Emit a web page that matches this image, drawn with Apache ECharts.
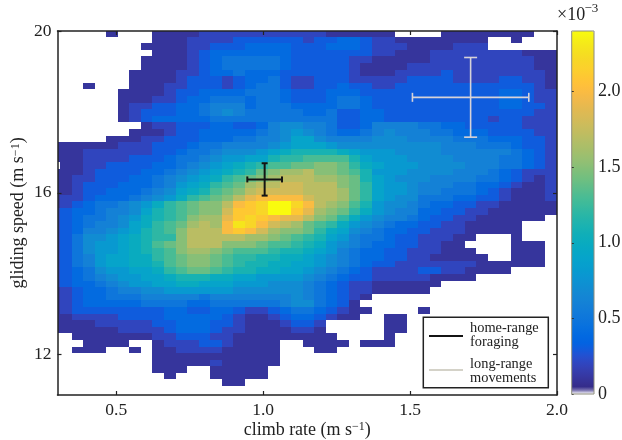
<!DOCTYPE html>
<html><head><meta charset="utf-8">
<style>html,body{margin:0;padding:0;background:#fff}#c{width:622px;height:440px}</style>
<script src="https://cdn.jsdelivr.net/npm/echarts@6/dist/echarts.min.js"></script>
</head><body><div id="c"></div>
<script>
// density in units of 1e-4, rows from top (fast) to bottom, columns left to right; 0 = no data
var densityRows = [
[0,0,0,0,0,1,0,0,0, 1,1,1,1,2,2,2,2,2,2, 2,2,2,2,2,1,1,1,1,1, 1,0,0,0,0,1,1,1,1, 1,1,1,1,0,0],
[0,0,0,0,0,0,0,0,0, 1,1,1,2,2,2,2,3,3,3, 3,3,3,2,3,3,4,4,3,2, 2,1,1,1,1,1,1,1,1, 0,0,1,0,0,0],
[0,0,0,0,0,0,0,0,1, 1,1,1,2,2,3,3,3,4,4, 4,4,3,3,3,4,4,4,3,2, 2,2,1,1,1,1,2,2,2, 0,0,0,0,0,0],
[0,0,0,0,0,0,0,0,0, 1,1,1,2,3,4,4,4,4,4, 4,4,3,3,3,3,3,3,3,2, 2,1,1,1,2,2,2,2,2, 2,2,2,1,1,1],
[0,0,0,0,0,0,0,0,1, 1,1,1,2,3,4,5,5,5,5, 5,4,3,3,3,3,3,2,2,1, 1,1,1,1,2,2,2,2,2, 2,2,2,2,1,1],
[0,0,0,0,0,0,0,0,1, 1,1,1,2,3,4,5,5,5,5, 5,4,3,3,3,3,3,2,1,1, 1,1,2,2,2,2,2,2,2, 2,2,2,2,1,1],
[0,0,0,0,0,0,0,1,1, 1,1,2,2,3,4,4,5,4,4, 4,3,3,3,3,3,3,2,1,1, 1,2,2,2,2,3,2,2,2, 2,2,2,2,2,1],
[0,0,0,0,0,0,0,1,1, 1,1,2,3,3,3,2,3,4,4, 5,3,2,2,3,3,3,2,2,2, 2,2,3,3,3,3,2,2,2, 2,3,3,2,2,1],
[0,0,0,1,0,0,0,1,1, 1,2,2,3,3,3,2,3,4,5, 5,3,2,2,3,3,4,3,3,2, 2,3,3,3,3,3,3,3,3, 3,3,3,3,2,1],
[0,0,0,0,0,0,1,1,1, 1,2,3,3,4,4,4,4,5,5, 5,4,3,3,3,4,4,4,3,3, 3,3,3,3,3,3,3,3,3, 3,4,4,3,2,2],
[0,0,0,0,0,0,1,1,1, 2,2,3,4,4,5,5,5,4,5, 5,4,3,3,3,4,5,5,4,3, 3,3,3,3,3,3,3,3,3, 3,4,4,3,2,2],
[0,0,0,0,0,0,1,2,2, 3,3,4,4,5,6,6,6,4,5, 5,5,4,4,4,4,5,5,4,3, 3,3,3,3,3,3,3,3,3, 3,4,4,3,3,2],
[0,0,0,0,0,0,1,2,3, 3,3,4,4,5,6,7,6,5,5, 5,5,5,4,4,5,3,3,4,4, 3,3,3,3,3,3,3,3,3, 3,3,3,3,2,2],
[0,0,0,0,0,0,1,2,3, 4,4,4,4,4,5,5,5,5,5, 5,5,5,5,5,5,3,3,4,4, 3,3,3,3,3,3,3,3,3, 2,3,3,2,2,2],
[0,0,0,0,0,0,0,0,1, 2,2,3,3,3,4,4,3,3,4, 6,7,7,6,6,5,3,3,4,6, 6,6,6,5,5,4,4,3,3, 3,3,3,2,2,2],
[0,0,0,0,0,0,0,1,1, 1,2,3,3,4,4,4,4,4,5, 6,7,8,7,6,5,4,4,5,6, 7,6,6,6,5,5,4,4,4, 3,3,3,3,2,2],
[0,0,0,0,0,1,1,1,2, 2,3,3,3,4,4,4,5,5,6, 6,7,9,9,7,6,6,6,6,7, 7,7,6,6,6,6,5,5,5, 4,4,4,3,3,2],
[1,1,1,1,1,1,2,2,2, 3,3,3,4,5,5,6,6,6,6, 7,8,9,9,9,8,7,7,7,7, 7,7,7,7,7,6,6,6,5, 5,5,4,3,3,2],
[1,1,1,2,2,2,2,2,2, 3,3,4,5,5,6,7,7,7,8, 9,10,11,11,11,11,10,9,8,8, 8,7,7,7,7,6,6,6,6, 6,6,5,4,3,2],
[1,1,1,2,2,2,2,3,3, 3,4,5,5,6,7,8,8,9,9, 11,12,12,13,13,13,13,11,9,8, 8,8,7,7,7,7,6,6,6, 6,5,5,4,3,2],
[0,1,1,2,2,3,3,3,3, 4,4,5,6,7,8,9,10,11,12, 13,13,14,14,15,15,14,12,10,9, 8,8,8,7,7,7,7,6,6, 6,5,5,4,3,2],
[1,1,1,2,3,3,3,3,4, 4,5,6,7,8,9,10,11,12,14, 15,16,16,17,15,15,14,13,11,8, 8,8,7,7,7,7,6,6,6, 5,4,3,2,2,2],
[1,1,2,2,3,3,3,4,4, 5,6,7,8,9,10,12,13,14,15, 16,17,17,17,16,16,15,14,11,9, 8,7,7,7,6,6,6,6,5, 5,4,3,2,1,2],
[1,1,2,3,3,3,4,4,4, 5,6,8,9,10,12,13,14,16,17, 17,18,18,17,17,17,15,14,12,9, 8,8,7,6,6,6,5,5,4, 4,3,2,1,1,2],
[1,1,2,3,3,4,4,4,5, 6,7,9,10,11,13,14,15,17,18, 18,18,18,17,17,17,16,14,12,9, 8,8,7,6,6,5,5,5,4, 3,2,1,1,1,2],
[1,2,2,3,4,4,4,5,6, 7,8,10,12,13,14,15,17,19,20, 20,20,20,18,17,17,16,14,12,9, 8,7,7,5,5,5,4,4,3, 3,2,1,1,1,2],
[1,2,3,4,5,5,6,7,8, 10,12,13,14,15,15,17,20,21,22, 24,24,22,20,17,16,15,13,11,8, 7,7,6,5,4,4,3,3,2, 2,1,1,1,1,1],
[2,3,4,4,5,6,6,7,9, 11,12,13,14,15,15,18,21,21,22, 24,24,21,19,16,15,14,12,10,8, 7,6,6,4,4,3,3,2,2, 1,1,1,1,1,1],
[2,3,4,5,5,6,7,8,10, 11,12,13,15,16,16,19,21,22,21, 20,19,19,17,15,14,12,10,8,7, 6,6,5,4,3,3,2,2,1, 1,1,1,1,1,0],
[2,3,4,5,6,6,7,9,10, 12,13,14,16,17,16,20,23,22,20, 18,17,16,14,13,12,10,8,7,6, 5,4,4,3,3,2,2,1,1, 1,1,1,0,0,0],
[2,3,4,6,6,7,8,9,11, 12,13,15,17,17,17,20,21,20,18, 16,15,15,14,12,10,9,7,6,5, 4,4,3,3,2,2,2,1,1, 1,1,1,0,0,0],
[2,3,5,7,7,8,9,10,11, 12,12,15,17,17,17,17,17,16,16, 15,14,13,12,11,9,8,6,5,5, 4,3,3,2,2,2,1,1,0, 0,0,1,0,0,0],
[2,3,5,7,8,8,9,10,11, 13,14,15,17,17,17,15,15,15,14, 13,13,12,11,10,8,7,6,5,4, 4,3,3,2,2,1,1,0,0, 0,0,1,1,1,0],
[2,3,5,7,8,8,9,10,11, 12,13,15,16,16,15,14,13,13,13, 12,11,11,10,9,8,6,5,4,4, 3,3,2,2,2,1,1,1,0, 0,0,1,1,1,0],
[2,3,5,6,8,9,9,10,10, 12,13,14,15,15,14,13,12,12,11, 11,10,10,9,8,7,6,5,4,4, 3,3,2,2,1,1,1,1,1, 0,0,1,1,1,0],
[2,3,5,6,8,9,9,10,10, 11,13,14,15,15,14,13,12,11,11, 10,10,9,9,8,7,6,5,4,3, 3,2,2,2,2,2,2,2,1, 1,1,1,1,1,0],
[2,3,4,5,7,8,8,9,9, 10,12,13,14,14,13,12,11,11,10, 10,9,9,8,7,6,5,4,3,2, 2,2,2,3,3,2,2,1,1, 1,1,0,0,0,0],
[2,3,4,5,6,7,8,8,9, 9,10,11,11,11,10,10,9,9,8, 8,8,8,7,6,5,4,3,3,2, 2,2,2,2,1,1,1,1,0, 0,0,0,0,0,0],
[2,3,4,4,5,6,7,8,8, 9,9,10,10,9,9,9,8,8,8, 7,7,7,6,5,4,3,2,2,1, 1,1,1,1,1,0,0,0,0, 0,0,0,0,0,0],
[1,2,3,4,4,5,6,6,7, 7,8,8,8,8,8,8,7,7,7, 7,7,7,6,5,4,3,2,2,1, 1,1,1,1,0,0,0,0,0, 0,0,0,0,0,0],
[1,2,3,4,4,5,5,5,6, 6,6,6,6,5,6,6,6,6,6, 6,6,7,6,5,4,3,2,1,0, 0,0,0,0,0,0,0,0,0, 0,0,0,0,0,0],
[1,2,3,4,4,4,4,4,5, 5,5,5,4,4,5,5,5,5,5, 5,6,7,7,5,4,3,1,0,0, 0,0,0,0,0,0,0,0,0, 0,0,0,0,0,0],
[1,2,3,3,3,3,3,3,3, 3,4,4,3,3,4,4,3,2,2, 3,4,5,5,4,3,2,1,1,0, 0,0,0,1,0,0,0,0,0, 0,0,0,0,0,0],
[1,1,2,2,2,2,3,3,3, 3,4,4,4,4,4,3,2,1,1, 2,3,4,4,3,2,1,1,0,0, 1,1,0,0,0,0,0,0,0, 0,0,0,0,0,0],
[1,1,1,1,2,2,2,2,2, 3,3,4,4,4,3,3,2,1,1, 1,2,3,3,2,0,0,0,0,0, 1,1,0,0,0,0,0,0,0, 0,0,0,0,0,0],
[1,1,1,1,1,1,2,2,2, 2,3,4,4,4,3,2,2,1,1, 1,1,2,2,1,0,0,0,0,0, 1,1,0,0,0,0,0,0,0, 0,0,0,0,0,0],
[0,0,1,1,1,1,1,1,1, 2,2,3,3,3,2,2,1,1,1, 1,1,1,1,1,1,0,0,0,0, 1,0,0,0,0,0,0,0,0, 0,0,0,0,0,0],
[0,0,0,1,1,1,1,0,0, 1,2,2,2,3,3,2,1,1,1, 1,0,0,1,1,1,1,0,1,1, 1,0,0,0,0,0,0,0,0, 0,0,0,0,0,0],
[0,0,1,1,1,0,0,1,0, 1,1,2,2,2,2,1,1,1,1, 1,0,0,0,1,1,0,0,0,0, 0,0,0,0,0,0,0,0,0, 0,0,0,0,0,0],
[0,0,0,0,0,0,0,0,0, 1,1,1,1,1,1,1,1,1,1, 1,0,0,0,0,0,0,0,0,0, 0,0,0,0,0,0,0,0,0, 0,0,0,0,0,0],
[0,0,0,0,0,0,0,0,0, 1,1,1,1,1,2,1,1,1,1, 1,0,0,0,0,0,0,0,0,0, 0,0,0,0,0,0,0,0,0, 0,0,0,0,0,0],
[0,0,0,0,0,0,0,0,0, 1,1,1,0,0,1,1,1,1,1, 0,0,0,0,0,0,0,0,0,0, 0,0,0,0,0,0,0,0,0, 0,0,0,0,0,0],
[0,0,0,0,0,0,0,0,0, 0,1,0,0,0,1,1,1,1,1, 0,0,0,0,0,0,0,0,0,0, 0,0,0,0,0,0,0,0,0, 0,0,0,0,0,0],
[0,0,0,0,0,0,0,0,0, 0,0,0,0,0,0,1,1,0,0, 0,0,0,0,0,0,0,0,0,0, 0,0,0,0,0,0,0,0,0, 0,0,0,0,0,0]
];
var xTicks = [0.5, 1.0, 1.5, 2.0];
var yTicks = [12, 16, 20];
var colorbarTicks = [0, 0.5, 1.0, 1.5, 2.0];
var foragingCross = [1.005, 16.33, 0.059, 0.40];   // x, y, x error, y error
var longRangeCross = [1.706, 18.36, 0.198, 0.985];
var xMin = 0.3, xMax = 2.0, yMin = 11, yMax = 20, densityMax = 2.4;
var binW = 0.03934, binH = 0.163, firstRowEdge = 19.86;
var parula = [[.2081,.1663,.5292],[.2116,.1898,.5777],[.2123,.2138,.627],[.2081,.2386,.6771],[.1959,.2645,.7279],[.1707,.2919,.7792],[.1253,.3242,.8303],[.0591,.3598,.8683],[.0117,.3875,.882],[.006,.4086,.8828],[.0165,.4266,.8786],[.0329,.443,.872],[.0498,.4586,.8641],[.0629,.4737,.8554],[.0723,.4887,.8467],[.0779,.504,.8384],[.0793,.52,.8312],[.0749,.5375,.8263],[.0641,.557,.824],[.0488,.5772,.8228],[.0343,.5966,.8199],[.0265,.6137,.8135],[.0239,.6287,.8038],[.0231,.6418,.7913],[.0228,.6535,.7768],[.0267,.6642,.7607],[.0384,.6743,.7436],[.059,.6838,.7254],[.0843,.6928,.7062],[.1133,.7015,.6859],[.1453,.7098,.6646],[.1801,.7177,.6424],[.2178,.725,.6193],[.2586,.7317,.5954],[.3022,.7376,.5712],[.3482,.7424,.5473],[.3953,.7459,.5244],[.442,.7481,.5033],[.4871,.7491,.484],[.53,.7491,.4661],[.5709,.7485,.4494],[.6099,.7473,.4337],[.6473,.7456,.4188],[.6834,.7435,.4044],[.7184,.7411,.3905],[.7525,.7384,.3768],[.7858,.7356,.3633],[.8185,.7327,.3498],[.8507,.7299,.336],[.8824,.7274,.3217],[.9139,.7258,.3063],[.945,.7261,.2886],[.9739,.7314,.2666],[.9938,.7455,.2403],[.999,.7653,.2164],[.9955,.7861,.1967],[.988,.8066,.1794],[.9789,.8271,.1633],[.9697,.8481,.1475],[.9626,.8705,.1309],[.9589,.8949,.1132],[.9598,.9218,.0948],[.9661,.9514,.0755],[.9763,.9831,.0538]];
var colors = ['#ffffff'].concat(parula.map(function(c){return 'rgb('+c.map(function(v){return Math.round(v*255)}).join(',')+')'}));

var cells = [];
densityRows.forEach(function(row, r){
  var yTop = r === 0 ? yMax : firstRowEdge - (r-1)*binH;
  var yBot = firstRowEdge - r*binH;
  row.forEach(function(v, k){
    if (!v) return;
    var xR = xMax - (43-k)*binW, xL = Math.max(xMin, xR - binW);
    cells.push([xL, xR, v/10, yTop, yBot]);
  });
});

var FONT = '"Liberation Serif", serif', INK = '#222';
var sup = {s:{fontSize:12, verticalAlign:'top', fontFamily:FONT, lineHeight:10, padding:[0,0,7,0], color:INK}};
function crossItem(color, lw, capHalfV, capHalfH){
  return function(p, api){
    var x=api.value(0), y=api.value(1), ex=api.value(2), ey=api.value(3);
    var l=api.coord([x-ex,y]), r=api.coord([x+ex,y]), t=api.coord([x,y+ey]), b=api.coord([x,y-ey]);
    var st={stroke:color,lineWidth:lw,fill:null};
    function seg(x1,y1,x2,y2){return {type:'line',shape:{x1:x1,y1:y1,x2:x2,y2:y2},style:st};}
    return {type:'group',children:[
      seg(l[0],l[1],r[0],r[1]), seg(t[0],t[1],b[0],b[1]),
      seg(l[0],l[1]-capHalfV,l[0],l[1]+capHalfV), seg(r[0],r[1]-capHalfV,r[0],r[1]+capHalfV),
      seg(t[0]-capHalfH,t[1],t[0]+capHalfH,t[1]), seg(b[0]-capHalfH,b[1],b[0]+capHalfH,b[1])
    ]};
  };
}
function frameAxis(pos, min, max, idx, ticks){
  return {type:'value',gridIndex:idx,position:pos,min:min,max:max,z:6,
    axisLine:{show:true,onZero:false,lineStyle:{color:INK,width:1.5}},
    axisTick:{show:true,inside:true,length:4,lineStyle:{color:INK,width:1.2},customValues:ticks},
    axisLabel:{show:false},splitLine:{show:false}};
}
var option={
  animation:false,
  backgroundColor:'#fff',
  grid:[
    {left:57.5,top:31,width:499.5,height:364,outerBoundsMode:'none'},
    {left:571.7,top:31,width:22.3,height:363,outerBoundsMode:'none'}
  ],
  xAxis:[
    {type:'value',gridIndex:0,min:xMin,max:xMax,position:'bottom',z:6,
      name:'climb rate (m s{s|−1})',nameLocation:'middle',nameGap:26,nameMoveOverlap:false,
      nameTextStyle:{fontFamily:FONT,fontSize:18,color:INK,rich:sup},
      axisLine:{show:true,onZero:false,lineStyle:{color:INK,width:1.5}},
      axisTick:{show:true,inside:true,length:4,lineStyle:{color:INK,width:1.2},customValues:xTicks},
      axisLabel:{show:true,margin:6,customValues:xTicks,formatter:function(v){return v.toFixed(1)},fontFamily:FONT,fontSize:17.5,color:INK,showMinLabel:true,showMaxLabel:true},
      splitLine:{show:false}},
    frameAxis('top',xMin,xMax,0,xTicks),
    {type:'value',gridIndex:1,min:0,max:1,show:false}
  ],
  yAxis:[
    {type:'value',gridIndex:0,min:yMin,max:yMax,position:'left',z:6,
      name:'gliding speed (m s{s|−1})',nameLocation:'middle',nameGap:30,nameRotate:90,nameMoveOverlap:false,
      nameTextStyle:{fontFamily:FONT,fontSize:18,color:INK,rich:sup},
      axisLine:{show:true,onZero:false,lineStyle:{color:INK,width:1.5}},
      axisTick:{show:true,inside:true,length:4,lineStyle:{color:INK,width:1.2},customValues:yTicks},
      axisLabel:{show:true,margin:6,customValues:yTicks,fontFamily:FONT,fontSize:17.5,color:INK,showMinLabel:true,showMaxLabel:true},
      splitLine:{show:false}},
    frameAxis('right',yMin,yMax,0,yTicks),
    {type:'value',gridIndex:1,min:0,max:densityMax,position:'right',z:6,
      axisLine:{show:false},
      axisTick:{show:true,inside:false,length:2,lineStyle:{color:INK,width:1},customValues:colorbarTicks},
      axisLabel:{show:true,margin:4,customValues:colorbarTicks,formatter:function(v){return v===0?'0':v.toFixed(1)},fontFamily:FONT,fontSize:18,color:INK,showMinLabel:true},
      splitLine:{show:false}}
  ],
  visualMap:{type:'continuous',seriesIndex:0,dimension:2,min:0,max:densityMax,left:571.7,top:31,itemWidth:22.3,itemHeight:363,
    padding:0,text:null,showLabel:false,calculable:false,hoverLink:false,realtime:false,
    inRange:{color:colors},outOfRange:{color:'#fff'},borderWidth:0},
  series:[
    {type:'custom',xAxisIndex:0,yAxisIndex:0,coordinateSystem:'cartesian2d',clip:true,silent:true,
      encode:{x:[0,1],y:[3,4],value:2},
      data:cells,
      renderItem:function(p,api){
        var a=api.coord([api.value(0),api.value(3)]), b=api.coord([api.value(1),api.value(4)]);
        var x0=Math.round(a[0]),y0=Math.round(a[1]),x1=Math.round(b[0]),y1=Math.round(b[1]);
        return {type:'rect',shape:{x:x0,y:y0,width:x1-x0,height:y1-y0},style:{fill:api.visual('color')}};
      }},
    {type:'custom',xAxisIndex:0,yAxisIndex:0,silent:true,z:4,encode:{x:0,y:1},data:[longRangeCross],
      renderItem:crossItem('#d6d2d8',1.6,4.5,6.5)},
    {type:'custom',xAxisIndex:0,yAxisIndex:0,silent:true,z:4,encode:{x:0,y:1},data:[foragingCross],
      renderItem:crossItem('#141414',2,3,3)}
  ],
  graphic:{elements:[
    {type:'rect',z:20,shape:{x:571.7,y:31,width:22.3,height:363},style:{fill:null,stroke:'#8c8c7c',lineWidth:1}},
    {type:'text',z:20,x:557,y:6,style:{text:'×10',fontFamily:FONT,fontSize:18,fill:INK}},
    {type:'text',z:20,x:584.5,y:2,style:{text:'−3',fontFamily:FONT,fontSize:13,fill:INK}},
    {type:'rect',z:20,shape:{x:423.3,y:317.3,width:125,height:70.4},style:{fill:'#fff',stroke:INK,lineWidth:1.5}},
    {type:'line',z:21,shape:{x1:429,y1:336,x2:463,y2:336},style:{stroke:'#141414',lineWidth:2}},
    {type:'line',z:21,shape:{x1:429,y1:370,x2:463,y2:370},style:{stroke:'#d4d2c8',lineWidth:2}},
    {type:'text',z:21,x:470,y:321,style:{text:'home-range',fontFamily:FONT,fontSize:14.4,fill:INK}},
    {type:'text',z:21,x:470,y:335.5,style:{text:'foraging',fontFamily:FONT,fontSize:14.4,fill:INK}},
    {type:'text',z:21,x:470,y:357,style:{text:'long-range',fontFamily:FONT,fontSize:14.4,fill:INK}},
    {type:'text',z:21,x:470,y:371.5,style:{text:'movements',fontFamily:FONT,fontSize:14.4,fill:INK}}
  ]}
};
echarts.init(document.getElementById('c'),null,{renderer:'canvas'}).setOption(option);
</script>
</body></html>
